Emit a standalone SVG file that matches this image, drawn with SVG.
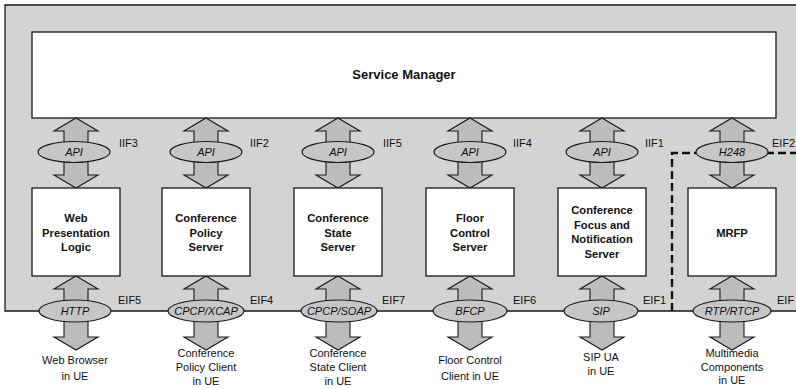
<svg xmlns="http://www.w3.org/2000/svg" width="796" height="389" viewBox="0 0 796 389">
  <style>
    .frame { fill: #d3d3d3; stroke: #1a1a1a; stroke-width: 1.3; }
    .box { fill: #ffffff; stroke: #1a1a1a; stroke-width: 1.3; }
    .arrow { fill: #bcbcbc; stroke: #1a1a1a; stroke-width: 1.1; stroke-linejoin: miter; }
    .proto { fill: #c6c6c6; stroke: #1a1a1a; stroke-width: 1.2; }
    .dash { fill: none; stroke: #111; stroke-width: 2.4; stroke-dasharray: 8 4; }
    text { font-family: "Liberation Sans", Arial, sans-serif; fill: #111; }
    .title { font-size: 13px; font-weight: bold; text-anchor: middle; }
    .node { font-size: 11.2px; font-weight: bold; text-anchor: middle; }
    .pl { font-size: 11px; font-style: italic; text-anchor: middle; }
    .ifl { font-size: 11px; }
    .ext { font-size: 11px; text-anchor: middle; }
  </style>
  <defs>
    <!-- double-headed block arrows, tip at y=0 -->
    <path id="arrowTop" class="arrow" d="M0,0 L22,13 L12,13 L12,57 L22,57 L0,70 L-22,57 L-12,57 L-12,13 L-22,13 Z"/>
    <path id="arrowBot" class="arrow" d="M0,0 L22,13 L12,13 L12,61 L22,61 L0,74 L-22,61 L-12,61 L-12,13 L-22,13 Z"/>
  </defs>

  <!-- shaded system area -->
  <path class="frame" d="M800,5 H5 V311 H800"/>

  <!-- Service Manager -->
  <g id="service-manager">
    <rect class="box" x="32" y="32" width="744" height="86"/>
    <text class="title" x="404" y="79">Service Manager</text>
  </g>

  <!-- connectors: dashed media boundary, arrows, protocol ellipses, interface labels -->
  <g id="connectors">
    <path class="dash" d="M672,311 V153 H800"/>

    <use href="#arrowTop" x="76" y="118"/>
    <use href="#arrowTop" x="206" y="118"/>
    <use href="#arrowTop" x="338" y="118"/>
    <use href="#arrowTop" x="470" y="118"/>
    <use href="#arrowTop" x="602" y="118"/>
    <use href="#arrowTop" x="732" y="118"/>

    <use href="#arrowBot" x="76" y="276"/>
    <use href="#arrowBot" x="206" y="276"/>
    <use href="#arrowBot" x="338" y="276"/>
    <use href="#arrowBot" x="470" y="276"/>
    <use href="#arrowBot" x="602" y="276"/>
    <use href="#arrowBot" x="732" y="276"/>

    <ellipse class="proto" cx="74" cy="152" rx="36" ry="10.5"/>
    <ellipse class="proto" cx="206" cy="152" rx="36" ry="10.5"/>
    <ellipse class="proto" cx="338" cy="152" rx="36" ry="10.5"/>
    <ellipse class="proto" cx="470" cy="152" rx="36" ry="10.5"/>
    <ellipse class="proto" cx="602" cy="152" rx="36" ry="10.5"/>
    <ellipse class="proto" cx="732" cy="152" rx="36" ry="10.5"/>

    <ellipse class="proto" cx="75" cy="311" rx="36" ry="11"/>
    <ellipse class="proto" cx="206" cy="311" rx="38" ry="11"/>
    <ellipse class="proto" cx="339" cy="311" rx="38" ry="11"/>
    <ellipse class="proto" cx="470" cy="311" rx="37" ry="11"/>
    <ellipse class="proto" cx="601" cy="311" rx="37" ry="11"/>
    <ellipse class="proto" cx="732" cy="311" rx="39" ry="11"/>

    <text class="pl" x="74" y="156">API</text>
    <text class="pl" x="206" y="156">API</text>
    <text class="pl" x="338" y="156">API</text>
    <text class="pl" x="470" y="156">API</text>
    <text class="pl" x="602" y="156">API</text>
    <text class="pl" x="732" y="156">H248</text>

    <text class="pl" x="75" y="315">HTTP</text>
    <text class="pl" x="206" y="315">CPCP/XCAP</text>
    <text class="pl" x="339" y="315">CPCP/SOAP</text>
    <text class="pl" x="470" y="315">BFCP</text>
    <text class="pl" x="601" y="315">SIP</text>
    <text class="pl" x="732" y="315">RTP/RTCP</text>

    <text class="ifl" x="119" y="147">IIF3</text>
    <text class="ifl" x="250" y="147">IIF2</text>
    <text class="ifl" x="383" y="147">IIF5</text>
    <text class="ifl" x="513" y="147">IIF4</text>
    <text class="ifl" x="645" y="147">IIF1</text>
    <text class="ifl" x="772" y="147">EIF2</text>

    <text class="ifl" x="118" y="304">EIF5</text>
    <text class="ifl" x="250" y="304">EIF4</text>
    <text class="ifl" x="382" y="304">EIF7</text>
    <text class="ifl" x="513" y="304">EIF6</text>
    <text class="ifl" x="643" y="304">EIF1</text>
    <text class="ifl" x="777" y="304">EIF</text>
  </g>

  <!-- functional entities -->
  <g id="web-presentation-logic">
    <rect class="box" x="32" y="188" width="88" height="88"/>
    <text class="node" x="76" y="222">Web</text>
    <text class="node" x="76" y="236.5">Presentation</text>
    <text class="node" x="76" y="251">Logic</text>
  </g>
  <g id="conference-policy-server">
    <rect class="box" x="162" y="188" width="88" height="88"/>
    <text class="node" x="206" y="222">Conference</text>
    <text class="node" x="206" y="236.5">Policy</text>
    <text class="node" x="206" y="251">Server</text>
  </g>
  <g id="conference-state-server">
    <rect class="box" x="294" y="188" width="88" height="88"/>
    <text class="node" x="338" y="222">Conference</text>
    <text class="node" x="338" y="236.5">State</text>
    <text class="node" x="338" y="251">Server</text>
  </g>
  <g id="floor-control-server">
    <rect class="box" x="426" y="188" width="88" height="88"/>
    <text class="node" x="470" y="222">Floor</text>
    <text class="node" x="470" y="236.5">Control</text>
    <text class="node" x="470" y="251">Server</text>
  </g>
  <g id="conference-focus">
    <rect class="box" x="558" y="188" width="88" height="88"/>
    <text class="node" x="602" y="214">Conference</text>
    <text class="node" x="602" y="228.5">Focus and</text>
    <text class="node" x="602" y="243">Notification</text>
    <text class="node" x="602" y="257.5">Server</text>
  </g>
  <g id="mrfp">
    <rect class="box" x="688" y="188" width="88" height="88"/>
    <text class="node" x="732" y="237">MRFP</text>
  </g>

  <!-- user equipment endpoints -->
  <g id="web-browser">
    <text class="ext" x="75" y="364">Web Browser</text>
    <text class="ext" x="75" y="380">in UE</text>
  </g>
  <g id="policy-client">
    <text class="ext" x="206" y="357">Conference</text>
    <text class="ext" x="206" y="371">Policy Client</text>
    <text class="ext" x="206" y="385">in UE</text>
  </g>
  <g id="state-client">
    <text class="ext" x="338" y="357">Conference</text>
    <text class="ext" x="338" y="371">State Client</text>
    <text class="ext" x="338" y="385">in UE</text>
  </g>
  <g id="floor-client">
    <text class="ext" x="470" y="364">Floor Control</text>
    <text class="ext" x="470" y="380">Client in UE</text>
  </g>
  <g id="sip-ua">
    <text class="ext" x="601" y="361">SIP UA</text>
    <text class="ext" x="601" y="375">in UE</text>
  </g>
  <g id="multimedia-components">
    <text class="ext" x="732" y="357">Multimedia</text>
    <text class="ext" x="732" y="371">Components</text>
    <text class="ext" x="732" y="384">in UE</text>
  </g>
</svg>
